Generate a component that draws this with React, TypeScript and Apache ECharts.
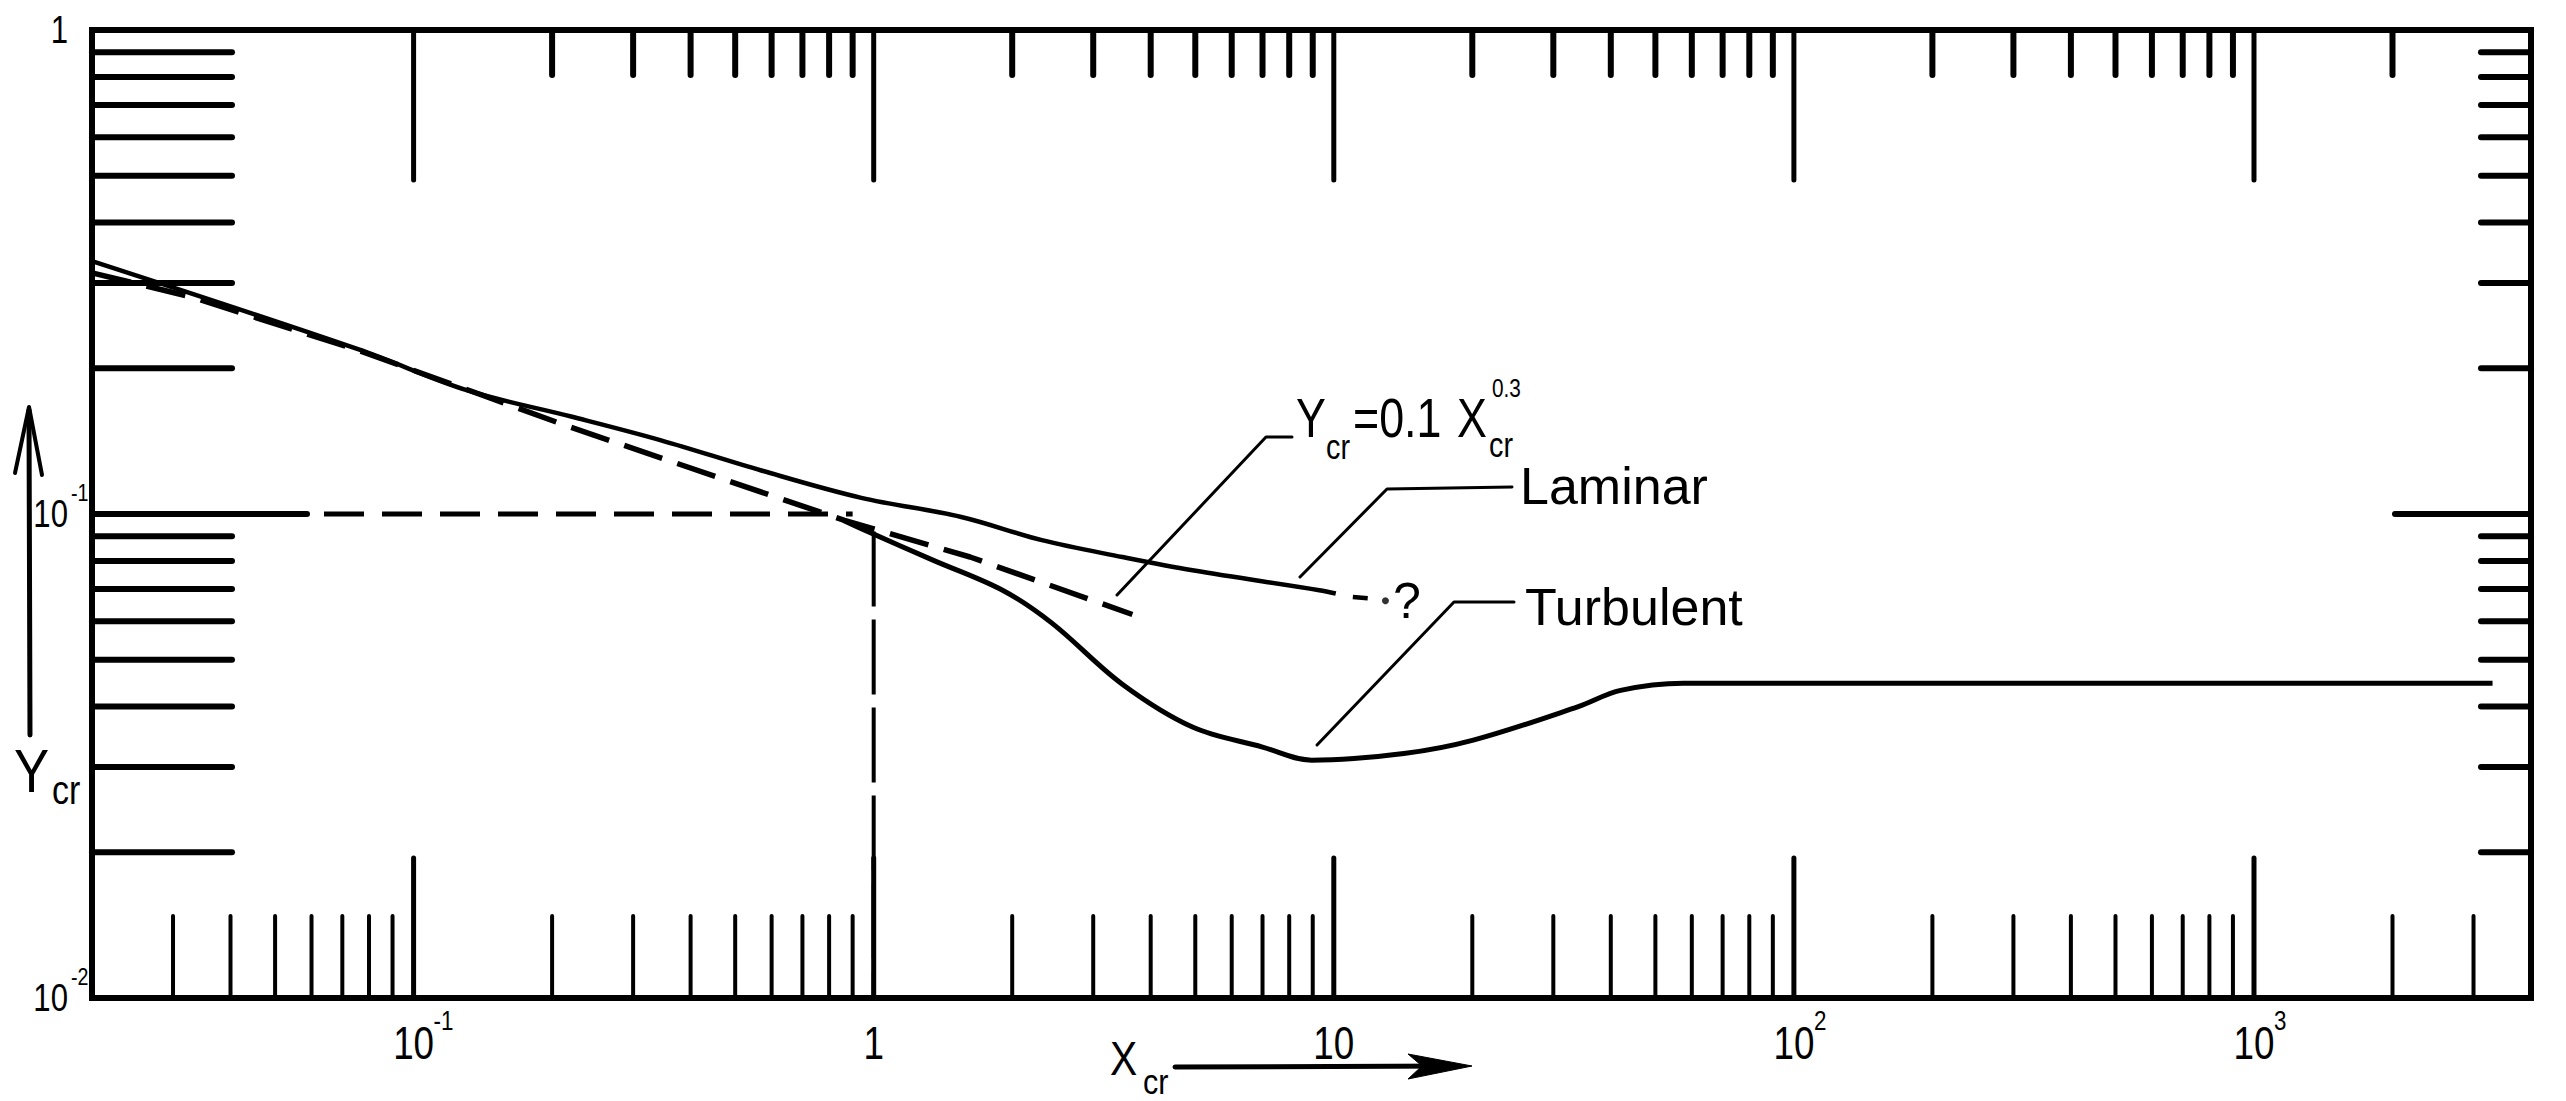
import React, { useEffect, useRef } from 'react';
import * as echarts from 'echarts';

// ---- axis extents ----
const X_MIN = 0.02;
const X_MAX = 4000;
const Y_MIN = 0.01;
const Y_MAX = 1;

// ---- tick values ----
const xDecadeTicks = [0.1, 1, 10, 100, 1000];
const xMinorTicksBottom = [
  0.03, 0.04, 0.05, 0.06, 0.07, 0.08, 0.09,
  0.2, 0.3, 0.4, 0.5, 0.6, 0.7, 0.8, 0.9,
  2, 3, 4, 5, 6, 7, 8, 9,
  20, 30, 40, 50, 60, 70, 80, 90,
  200, 300, 400, 500, 600, 700, 800, 900,
  2000, 3000,
];
const xMinorTicksTop = [
  0.2, 0.3, 0.4, 0.5, 0.6, 0.7, 0.8, 0.9,
  2, 3, 4, 5, 6, 7, 8, 9,
  20, 30, 40, 50, 60, 70, 80, 90,
  200, 300, 400, 500, 600, 700, 800, 900,
  2000,
];
const yMinorTicks = [
  0.02, 0.03, 0.04, 0.05, 0.06, 0.07, 0.08, 0.09,
  0.2, 0.3, 0.4, 0.5, 0.6, 0.7, 0.8, 0.9,
];
const yDecadeTicks = [0.1];

// ---- tick labels ----
const xLabelValues = [0.1, 1, 10, 100, 1000];
const xLabelBase = ['10', '1', '10', '10', '10'];
const xLabelExp = ['-1', '', '', '2', '3'];
const yLabelValues = [1, 0.1, 0.01];
const yLabelBase = ['1', '10', '10'];
const yLabelExp = ['', '-1', '-2'];

// ---- curves ----
const powerLawX = [0.02, 0.0328, 0.0757, 0.22, 0.864, 1.62, 3.65];
const powerLawY = [0.315, 0.281, 0.218, 0.151, 0.097, 0.0815, 0.062];

const laminarX = [0.02, 0.0757, 0.131, 0.22, 0.345, 0.57, 0.94, 1.55, 2.32, 3.47, 4.93, 9.3, 10.1];
const laminarY = [0.333, 0.219, 0.18, 0.159, 0.142, 0.123, 0.108, 0.0986, 0.0883, 0.0815, 0.0765, 0.0696, 0.0685];
const laminarTailX = [11.0, 11.85];
const laminarTailY = [0.0674, 0.067];
const laminarDotX = [12.95];
const laminarDotY = [0.0662];

const turbulentX = [0.86, 0.956, 1.345, 1.91, 2.44, 3.47, 4.93, 7.0, 8.95, 14.2, 20.1, 34, 42, 57.6, 3300];
const turbulentY = [0.097, 0.0926, 0.0803, 0.0695, 0.0595, 0.0445, 0.0363, 0.033, 0.031, 0.032, 0.0341, 0.04, 0.0432, 0.0447, 0.0447];

const refHorizX = [0.02, 0.9];
const refHorizY = [0.1, 0.1];
const refVertX = [1, 1];
const refVertY = [0.092, 0.01];

const FONT = '"Liberation Sans", "DejaVu Sans", sans-serif';
const BLACK = '#000';

function pairs(xs: number[], ys: number[]) {
  return xs.map((x, i) => [x, ys[i]]);
}

function tickSeries(values: number[], side: string, len: number, width: number) {
  return {
    type: 'custom',
    silent: true,
    clip: false,
    z: 6,
    data: values.map((v) =>
      side === 'bottom' ? [v, Y_MIN] : side === 'top' ? [v, Y_MAX] : side === 'left' ? [X_MIN, v] : [X_MAX, v]
    ),
    renderItem: (params: any, api: any) => {
      const p = api.coord([api.value(0), api.value(1)]);
      let x2 = p[0];
      let y2 = p[1];
      if (side === 'bottom') y2 -= len;
      else if (side === 'top') y2 += len;
      else if (side === 'left') x2 += len;
      else x2 -= len;
      return {
        type: 'line',
        shape: { x1: p[0], y1: p[1], x2, y2 },
        style: { stroke: BLACK, lineWidth: width, lineCap: 'round' },
      };
    },
  };
}

function txt(x: number, y: number, text: string, size: number, align = 'left', sx = 1) {
  return {
    type: 'text',
    x,
    y,
    scaleX: sx,
    silent: true,
    style: {
      text,
      font: `${size}px ${FONT}`,
      fill: BLACK,
      align,
      textAlign: align,
      verticalAlign: 'middle',
      textVerticalAlign: 'middle',
    },
  };
}

const xLabelSeries = {
  type: 'custom',
  silent: true,
  clip: false,
  z: 7,
  data: xLabelValues.map((v) => [v, Y_MIN]),
  renderItem: (params: any, api: any) => {
    const i = params.dataIndex;
    const p = api.coord([api.value(0), api.value(1)]);
    const children: any[] = [txt(p[0], p[1] + 45, xLabelBase[i], 46, 'center', 0.8)];
    if (xLabelExp[i]) children.push(txt(p[0] + 20, p[1] + 22, xLabelExp[i], 28, 'left', 0.8));
    return { type: 'group', children };
  },
};

const yLabelSeries = {
  type: 'custom',
  silent: true,
  clip: false,
  z: 7,
  data: yLabelValues.map((v) => [X_MIN, v]),
  renderItem: (params: any, api: any) => {
    const i = params.dataIndex;
    const p = api.coord([api.value(0), api.value(1)]);
    const children: any[] = [txt(p[0] - 24, p[1], yLabelBase[i], 38, 'right', 0.82)];
    if (yLabelExp[i]) children.push(txt(p[0] - 21, p[1] - 21, yLabelExp[i], 24, 'left', 0.82));
    return { type: 'group', children };
  },
};

function line(x1: number, y1: number, x2: number, y2: number, w: number) {
  return { type: 'line', silent: true, shape: { x1, y1, x2, y2 }, style: { stroke: BLACK, lineWidth: w, lineCap: 'round' } };
}
function poly(points: number[][], w: number) {
  return { type: 'polyline', silent: true, shape: { points }, style: { stroke: BLACK, lineWidth: w, fill: null, lineJoin: 'round', lineCap: 'round' } };
}

const graphic: any[] = [
  // Y axis title + arrow
  line(30, 735, 29, 410, 5),
  poly([[15, 473], [29, 407], [42, 475]], 4),
  txt(14, 770, 'Y', 62, 'left', 0.85),
  txt(52, 790, 'cr', 40, 'left', 0.85),
  // X axis title + arrow
  txt(1110, 1058, 'X', 48, 'left', 0.85),
  txt(1143, 1082, 'cr', 36, 'left', 0.85),
  line(1175, 1067, 1455, 1066, 5),
  {
    type: 'polygon',
    silent: true,
    shape: { points: [[1408, 1054], [1472, 1066], [1408, 1079], [1422, 1066]] },
    style: { fill: BLACK, stroke: BLACK, lineWidth: 1 },
  },
  // equation label
  poly([[1292, 437], [1266, 437], [1117, 595]], 3),
  txt(1296, 418, 'Y', 56, 'left', 0.8),
  txt(1326, 446, 'cr', 36, 'left', 0.8),
  txt(1353, 418, '=0.1', 56, 'left', 0.8),
  txt(1457, 418, 'X', 56, 'left', 0.8),
  txt(1489, 444, 'cr', 36, 'left', 0.8),
  txt(1492, 388, '0.3', 26, 'left', 0.8),
  // laminar label
  poly([[1512, 487], [1387, 489], [1300, 577]], 3),
  txt(1520, 486, 'Laminar', 52),
  // question mark
  txt(1407, 601, '?', 50, 'center'),
  // turbulent label
  poly([[1514, 602], [1454, 602], [1317, 745]], 3),
  txt(1525, 607, 'Turbulent', 52),
];

const option: any = {
  animation: false,
  backgroundColor: '#fff',
  grid: {
    left: 92,
    right: 35,
    top: 30,
    bottom: 103,
    show: true,
    borderColor: BLACK,
    borderWidth: 6,
    backgroundColor: 'transparent',
    containLabel: false,
  },
  xAxis: {
    type: 'log',
    logBase: 10,
    min: X_MIN,
    max: X_MAX,
    axisLine: { show: false },
    axisTick: { show: false },
    axisLabel: { show: false },
    splitLine: { show: false },
    minorTick: { show: false },
  },
  yAxis: {
    type: 'log',
    logBase: 10,
    min: Y_MIN,
    max: Y_MAX,
    axisLine: { show: false },
    axisTick: { show: false },
    axisLabel: { show: false },
    splitLine: { show: false },
    minorTick: { show: false },
  },
  series: [
    {
      name: 'Y=0.1X^-0.3',
      type: 'line',
      data: pairs(powerLawX, powerLawY),
      symbol: 'none',
      silent: true,
      z: 3,
      lineStyle: { color: BLACK, width: 5.5, type: [40, 16], cap: 'butt' },
    },
    {
      name: 'Laminar',
      type: 'line',
      data: pairs(laminarX, laminarY),
      symbol: 'none',
      smooth: 0.35,
      silent: true,
      z: 4,
      lineStyle: { color: BLACK, width: 4.5 },
    },
    {
      name: 'Laminar tail',
      type: 'line',
      data: pairs(laminarTailX, laminarTailY),
      symbol: 'none',
      silent: true,
      z: 4,
      lineStyle: { color: BLACK, width: 4.5 },
    },
    {
      name: 'Laminar dot',
      type: 'scatter',
      data: pairs(laminarDotX, laminarDotY),
      symbol: 'circle',
      symbolSize: 7,
      silent: true,
      z: 4,
      itemStyle: { color: BLACK },
    },
    {
      name: 'Turbulent',
      type: 'line',
      data: pairs(turbulentX, turbulentY),
      symbol: 'none',
      smooth: 0.35,
      silent: true,
      z: 4,
      lineStyle: { color: BLACK, width: 5 },
    },
    {
      name: 'ref 0.1',
      type: 'line',
      data: pairs(refHorizX, refHorizY),
      symbol: 'none',
      silent: true,
      z: 3,
      lineStyle: { color: BLACK, width: 5, type: [40, 18], cap: 'butt' },
    },
    {
      name: 'ref x=1',
      type: 'line',
      data: pairs(refVertX, refVertY),
      symbol: 'none',
      silent: true,
      z: 3,
      lineStyle: { color: BLACK, width: 4, type: [75, 13], cap: 'butt' },
    },
    tickSeries(xMinorTicksBottom, 'bottom', 82, 4),
    tickSeries(xDecadeTicks, 'bottom', 140, 5),
    tickSeries(xMinorTicksTop, 'top', 45, 6),
    tickSeries(xDecadeTicks, 'top', 150, 5),
    tickSeries(yMinorTicks, 'left', 140, 6),
    tickSeries(yDecadeTicks, 'left', 215, 6),
    tickSeries(yMinorTicks, 'right', 50, 6),
    tickSeries(yDecadeTicks, 'right', 136, 6),
    xLabelSeries,
    yLabelSeries,
  ],
  graphic,
};

export default function App() {
  const ref = useRef<HTMLDivElement>(null);
  useEffect(() => {
    if (!ref.current) return;
    const chart = echarts.init(ref.current, null, { renderer: 'svg' });
    chart.setOption(option);
    return () => {
      chart.dispose();
    };
  }, []);
  return (
    <div
      ref={ref}
      style={{ position: 'fixed', left: 0, top: 0, width: 2566, height: 1101, background: '#fff' }}
    />
  );
}
